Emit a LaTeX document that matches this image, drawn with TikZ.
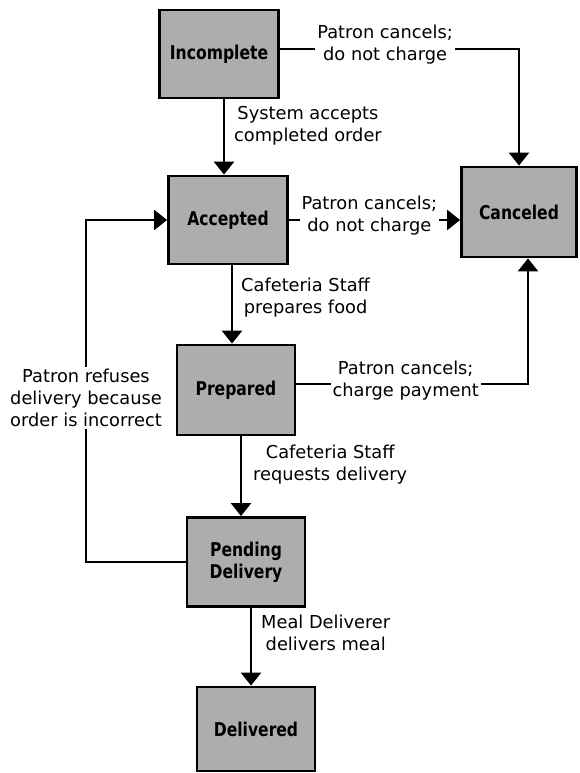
\documentclass[tikz,border=0pt]{standalone}
\usepackage{fontspec}
\setmainfont{DejaVu Sans}
\newfontfamily\boxfont[FakeStretch=0.82]{DejaVu Sans}
\usetikzlibrary{arrows.meta}
\tikzset{
  state/.style={draw=black, line width=2.8pt, fill=black!32, minimum width=119pt, minimum height=88pt,
    inner sep=0pt, align=center, font={\boxfont\bfseries\fontsize{19}{22}\selectfont}},
  arr/.style={line width=2.4pt, -{Triangle[width=20pt,length=13pt]}},
  lbl/.style={fill=white, inner sep=2pt, align=center, font={\fontsize{17.8}{22}\selectfont}},
}
\begin{document}
\begin{tikzpicture}[x=1pt,y=-1pt]
\useasboundingbox (0,0) rectangle (580,773);
% states
\node[state] (inc) at (219,54) {Incomplete};
\node[state] (acc) at (228,220) {Accepted};
\node[state, minimum width=118pt, minimum height=90pt] (prep) at (236,390) {Prepared};
\node[state, minimum width=118pt, minimum height=89pt] (pend) at (246,562) {Pending\\Delivery};
\node[state, minimum width=118pt, minimum height=84pt] (del) at (256,729) {Delivered};
\node[state, minimum width=115pt, minimum height=90pt] (can) at (519,212) {Canceled};
% helper coordinates
\coordinate (s1) at ([xshift=5pt]inc.south);
\coordinate (s2) at ([xshift=4pt]acc.south);
\coordinate (s3) at ([xshift=5pt]prep.south);
\coordinate (s4) at ([xshift=5pt]pend.south);
\coordinate (c1) at ([yshift=5pt]inc.east);
\coordinate (c3) at ([yshift=6pt]prep.east);
\coordinate (c4) at ([xshift=9pt]can.south);
\coordinate (lp) at (86,398);
% main chain
\draw[arr] (s1) -- (s1 |- acc.north)
  node[lbl, anchor=west, pos=0.35, xshift=7pt] {System accepts\\completed order};
\draw[arr] (s2) -- (s2 |- prep.north)
  node[lbl, anchor=west, pos=0.41, xshift=6pt] {Cafeteria Staff\\prepares food};
\draw[arr] (s3) -- (s3 |- pend.north)
  node[lbl, anchor=west, pos=0.35, xshift=9pt] {Cafeteria Staff\\requests delivery};
\draw[arr] (s4) -- (s4 |- del.north)
  node[lbl, anchor=west, pos=0.32, xshift=7pt] {Meal Deliverer\\delivers meal};
% cancellations
\draw[arr] (c1) -| (can.north)
  node[lbl, pos=0.22, yshift=4pt] {Patron cancels;\\do not charge};
\draw[arr] (acc.east) -- (acc.east -| can.west)
  node[lbl, pos=0.47, yshift=4pt] {Patron cancels;\\do not charge};
\draw[arr] (c3) -| (c4)
  node[lbl, pos=0.236, yshift=3pt] {Patron cancels;\\charge payment};
% refusal loop
\draw[arr] (pend.west) -| (lp)
  node[lbl] {Patron refuses\\delivery because\\order is incorrect} |- (acc.west);
\end{tikzpicture}
\end{document}
